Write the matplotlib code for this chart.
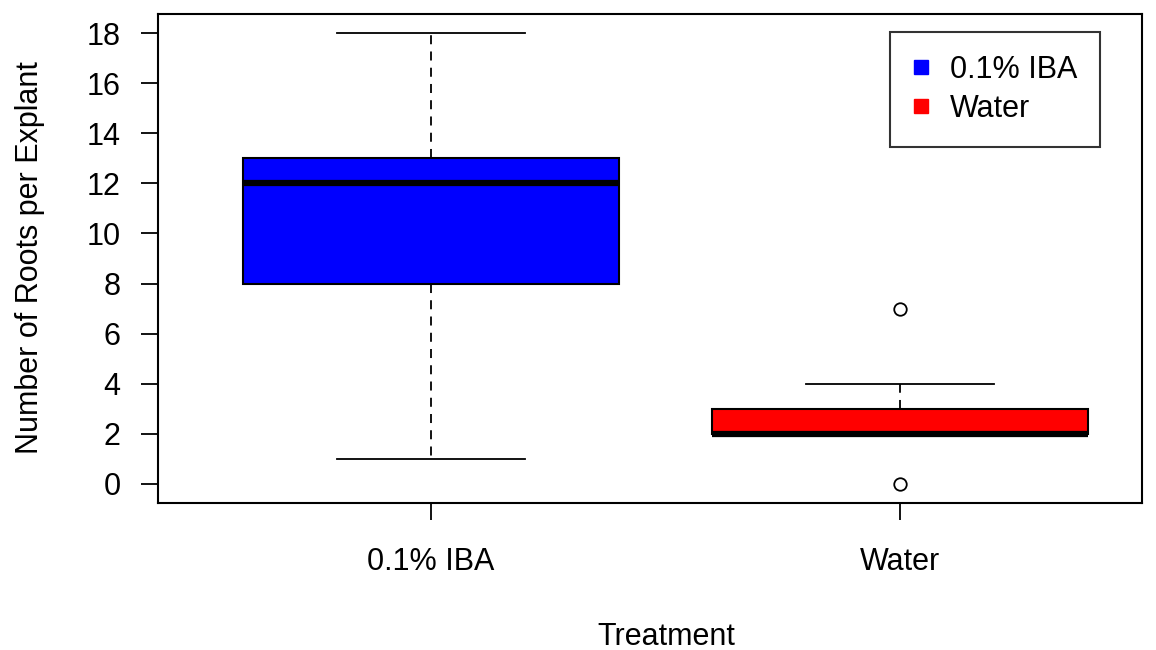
import matplotlib
matplotlib.use("Agg")
import matplotlib.pyplot as plt
from matplotlib.lines import Line2D

plt.rcParams['font.family'] = ['Liberation Sans', 'DejaVu Sans']

# box statistics
treatments = ["0.1% IBA", "Water"]
colors = ["#0000ff", "#ff0000"]
q1 = [8, 2]
medians = [12, 2]
q3 = [13, 3]
whisker_low = [1, 2]
whisker_high = [18, 4]
outliers = [[], [7, 0]]

stats = []
for i, name in enumerate(treatments):
    stats.append({
        "label": name,
        "q1": q1[i], "med": medians[i], "q3": q3[i],
        "whislo": whisker_low[i], "whishi": whisker_high[i],
        "fliers": outliers[i],
    })

fig = plt.figure(figsize=(11.56, 6.5), dpi=100)
ax = fig.add_axes([158 / 1156, 1 - 503 / 650, 984 / 1156, 489 / 650])

bp = ax.bxp(stats, positions=[1, 2], widths=0.8, capwidths=0.4,
            patch_artist=True, showfliers=True,
            boxprops=dict(edgecolor="black", linewidth=1.5),
            medianprops=dict(color="black", linewidth=4.5, solid_capstyle="butt"),
            whiskerprops=dict(color="black", linewidth=1.3, linestyle=(0, (5, 4))),
            capprops=dict(color="black", linewidth=1.3),
            flierprops=dict(marker="o", markerfacecolor="white",
                            markeredgecolor="black", markersize=9,
                            markeredgewidth=1.3))
for patch, c in zip(bp["boxes"], colors):
    patch.set_facecolor(c)

ax.set_xlim(0.418, 2.516)
ax.set_ylim(-0.76, 18.76)
ax.set_yticks(range(0, 19, 2))
ax.set_xticks([1, 2])
ax.set_xticklabels(treatments)
ax.tick_params(axis="both", labelsize=22, length=12, width=1.3, colors="black")
ax.tick_params(axis="y", pad=15)
ax.tick_params(axis="x", pad=20)
for s in ax.spines.values():
    s.set_linewidth(1.5)

fig.text(30 / 1156, 1 - 258 / 650, "Number of Roots per Explant",
         rotation=90, ha="center", va="center", fontsize=22)
fig.text(666 / 1156, 1 - 637 / 650, "Treatment",
         ha="center", va="center", fontsize=22)

handles = [Line2D([], [], marker="s", linestyle="none", markersize=10,
                  markerfacecolor=c, markeredgecolor=c) for c in colors]
leg = ax.legend(handles, treatments, loc="upper right", fontsize=22,
                frameon=True, fancybox=False, edgecolor="black",
                bbox_to_anchor=(1100 / 1156, 1 - 32 / 650),
                bbox_transform=fig.transFigure,
                handlelength=0.5, handletextpad=0.7, borderpad=0.75,
                labelspacing=0.3, borderaxespad=0)
leg.get_frame().set_linewidth(1.5)

fig.savefig("out.png", dpi=100)
